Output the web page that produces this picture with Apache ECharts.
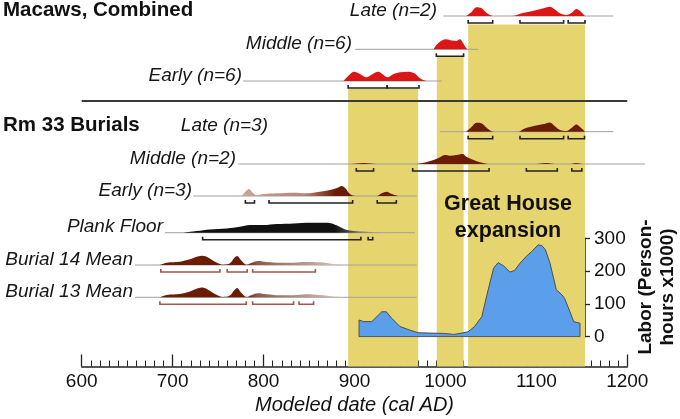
<!DOCTYPE html>
<html>
<head>
<meta charset="utf-8">
<script src="https://cdn.jsdelivr.net/npm/echarts@6/dist/echarts.min.js"></script>
<style>html,body{margin:0;padding:0;background:#fff}#chart{width:680px;height:419px}</style>
</head>
<body>
<div id="chart"></div>
<script>
// ---------------- DATA ----------------
const xTickValues = [600, 700, 800, 900, 1000, 1100, 1200];
const laborTicks = [0, 100, 200, 300];

// highlighted periods (cal AD)
const bandRanges = [[893, 970], [990.5, 1020], [1025, 1153.5]];

// Labor (person-hours x1000)
const laborYears  = [905, 910, 919, 930, 935, 941, 950, 961, 970, 983, 998, 1009, 1016, 1025, 1032, 1040, 1047, 1053, 1058, 1064, 1071, 1076, 1082, 1089, 1095, 1102, 1106, 1110, 1115, 1122, 1128, 1131, 1137, 1141, 1148];
const laborValues = [51, 46, 46, 76, 76, 56, 31, 20, 12, 11, 10, 7, 10, 15, 31, 61, 143, 209, 226, 216, 197, 202, 224, 245, 260, 280, 278, 265, 224, 143, 128, 117, 76, 46, 41];

// relative probability densities [year, relative height]
const macawLateDensity = [[1023,0],[1029,4.3],[1034,8.7],[1040,7.7],[1045,3.3],[1053,0],[1073,0],[1084,2.7],[1097,5.3],[1108,7.7],[1115,9.3],[1120,6.7],[1126,2.7],[1133,1],[1139,3.3],[1144,7],[1149,4.3],[1153.5,0]];
const macawMiddleDensity = [[987,0],[990,4.3],[996,8.7],[1001,10],[1007,8.7],[1012,8.3],[1016,10],[1019,6.7],[1023,1],[1025,0]];
const macawEarlyDensity = [[888,0],[893,5],[899.5,9.3],[906,7],[913,3.7],[920,7],[926,9.3],[932,6],[936,3.7],[943,7],[950,8.7],[959,9.3],[966,7.7],[972,2.7],[978,0.3],[983,0]];
const rmLateDensity = [[1023,0],[1029,5],[1034,9],[1040,8.3],[1045,4.3],[1053,0],[1080,0],[1086,2.7],[1097,5.7],[1108,7.7],[1115,9.3],[1120,5.7],[1126,1.7],[1133,0.7],[1139,4],[1144,7.3],[1149,4],[1153.5,0]];
const rmMiddleDensity = [[896,0],[903,0.5],[910,1],[917,0.5],[924,0],[965,0],[976,1.3],[987,4],[994,6.7],[999.5,9],[1005,8.3],[1012,9],[1019,10],[1023,7.3],[1031,4],[1038,1.7],[1045,0.3],[1050,0],[1100,0],[1111,1],[1120,0],[1138,0],[1144,0.7],[1150,0]];
const rmEarlyDensity = [[776,0],[780,4.3],[784,7],[788,3.3],[792.5,0.7],[800,2],[814.5,2.7],[833,3.3],[847,2.7],[862,4.3],[873,6],[880,7.7],[886,10],[890,7.7],[895,2],[901,0],[924,0],[930,2.7],[935.5,4.3],[941,2],[948,0]];
const plankDensity = [[712,0],[726.5,1.7],[741,3.3],[759.5,4.3],[774,6],[785,7.7],[800,7.7],[814.5,8.7],[833,9.3],[851,10],[866,10],[875,9.3],[882,6.7],[890,3.3],[899,1.7],[913,1],[932,0.3],[943,0]];
const burial14Density = [[686,0],[693.5,2.3],[708,3.3],[719,5.7],[732,9.3],[737.5,8.3],[746.6,3.3],[755.7,0.3],[763,1.7],[767.5,6.7],[771,9],[775,5],[781.5,0.3],[787,2.3],[794,4],[803.5,3],[818,2.3],[833,2.3],[847,3],[862,2.7],[877,1],[888,0]];
const burial13Density = [[686,0],[693.5,2.3],[708,3.3],[719,5.7],[732,9.7],[737.5,8.3],[746.6,3.3],[755.7,0.3],[763,1.7],[767.5,6.7],[771,9.3],[775,5],[781.5,0.3],[787,2.3],[794,4],[803.5,3],[818,2],[833,2],[847,3],[862,2.3],[877,0.7],[888,0]];

// highest-probability ranges [start, end]
const macawLateRanges = [[1025,1052],[1082,1130],[1135,1153.5]];
const macawMiddleRanges = [[990,1020]];
const macawEarlyRanges = [[893,936],[936,971]];
const rmLateRanges = [[1025,1052],[1082,1130],[1135,1153]];
const rmMiddleRanges = [[902,921],[964,1048],[1089,1123],[1139,1150]];
const rmEarlyRanges = [[780,790],[806,898],[925,946]];
const plankRanges = [[733,907],[915,920]];
const burial14Ranges = [[687,752],[760,782],[788,857]];
const burial13Ranges = [[686,781],[788,833],[839,855]];

// baseline extents (cal AD)
const macawLateExtent = [997.7, 1184.6];
const macawMiddleExtent = [900.6, 1036.2];
const macawEarlyExtent = [777.4, 995.9];
const rmLateExtent = [994, 1184.6];
const rmMiddleExtent = [771.9, 1219.5];
const rmEarlyExtent = [722.7, 968.4];
const plankExtent = [691.6, 966.5];
const burial14Extent = [658.6, 968.4];
const burial13Extent = [658.6, 968.4];

// ---------------- STYLE / LAYOUT ----------------
const FONT = '"Liberation Sans", Arial, Helvetica, sans-serif';
const RED = '#dc1616';
const BROWN = '#6a1c04';
const BLACK = '#111111';
const BR_BLACK = '#222222';
const BR_RED = '#a3544c';
const YELLOW = '#e6d46e';
const GRID_LEFT = 81.7;
const AXIS_Y = 366.5;
const BRACKET_Y = -7;
const bandTops = [89, 57, 24.5];

function hGrad(stops) {
  return new echarts.graphic.LinearGradient(0, 0, 1, 0, stops.map(s => ({offset: s[0], color: s[1]})));
}

const rows = [
  {label: 'Late (n=2)', labelRight: 437, baseline: 16, density: macawLateDensity, ranges: macawLateRanges, extent: macawLateExtent, fill: RED, bracket: BR_BLACK},
  {label: 'Middle (n=6)', labelRight: 352, baseline: 49.3, density: macawMiddleDensity, ranges: macawMiddleRanges, extent: macawMiddleExtent, fill: RED, bracket: BR_BLACK},
  {label: 'Early (n=6)', labelRight: 242, baseline: 81, density: macawEarlyDensity, ranges: macawEarlyRanges, extent: macawEarlyExtent, fill: RED, bracket: BR_BLACK},
  {label: 'Late (n=3)', labelRight: 268, labelY: 126, baseline: 131.7, density: rmLateDensity, ranges: rmLateRanges, extent: rmLateExtent, fill: BROWN, bracket: BR_BLACK},
  {label: 'Middle (n=2)', labelRight: 236, baseline: 164, density: rmMiddleDensity, ranges: rmMiddleRanges, extent: rmMiddleExtent, fill: BROWN, bracket: BR_BLACK},
  {label: 'Early (n=3)', labelRight: 192, baseline: 196, density: rmEarlyDensity, ranges: rmEarlyRanges, extent: rmEarlyExtent,
    fill: hGrad([[0,'#c9a595'],[0.4,'#b48676'],[0.6,'#6a1c04'],[1,'#6a1c04']]), bracket: BR_BLACK},
  {label: 'Plank Floor', labelRight: 163, baseline: 232.7, density: plankDensity, ranges: plankRanges, extent: plankExtent,
    fill: hGrad([[0,BLACK],[0.72,BLACK],[0.85,'#777777'],[1,'#cccccc']]), bracket: BR_BLACK},
  {label: 'Burial 14 Mean', labelRight: 133, baseline: 265, density: burial14Density, ranges: burial14Ranges, extent: burial14Extent,
    fill: hGrad([[0,BROWN],[0.47,BROWN],[0.53,'#8e5a4a'],[1,'#d9c9c2']]), bracket: BR_RED},
  {label: 'Burial 13 Mean', labelRight: 133, baseline: 297.3, density: burial13Density, ranges: burial13Ranges, extent: burial13Extent,
    fill: hGrad([[0,BROWN],[0.47,BROWN],[0.53,'#8e5a4a'],[1,'#d9c9c2']]), bracket: BR_RED}
];

const noBounds = {containLabel: false, outerBoundsMode: 'none'};
const grids = [
  Object.assign({left: GRID_LEFT, right: 680 - 627.3, top: 0, height: AXIS_Y}, noBounds),
  Object.assign({left: GRID_LEFT, right: 680 - 585, top: 238.3, height: 336.7 - 238.3}, noBounds)
];
const xAxes = [
  {gridIndex: 0, type: 'value', min: 600, max: 1200, interval: 100,
   axisLine: {show: true, onZero: false, lineStyle: {color: '#222', width: 1.5}},
   axisTick: {show: true, inside: true, length: 12, lineStyle: {color: '#222', width: 1.3}},
   minorTick: {show: true, splitNumber: 10, length: 6, lineStyle: {color: '#222', width: 1}},
   axisLabel: {show: true, fontSize: 19, color: '#111', margin: 6, fontFamily: FONT,
     formatter: v => xTickValues.includes(v) ? String(v) : ''},
   splitLine: {show: false}, minorSplitLine: {show: false},
   name: 'Modeled date (cal AD)', nameLocation: 'middle', nameGap: 29, nameMoveOverlap: false,
   nameTextStyle: {fontSize: 20, fontStyle: 'italic', color: '#111', fontFamily: FONT}},
  {gridIndex: 1, type: 'value', min: 600, max: 1153.5, show: false}
];
const yAxes = [
  {gridIndex: 0, type: 'value', min: 0, max: 1, show: false},
  {gridIndex: 1, type: 'value', min: 0, max: 300, interval: 100, position: 'right',
   axisLine: {show: true, onZero: false, lineStyle: {color: '#222', width: 1.5}},
   axisTick: {show: true, inside: false, length: 5, lineStyle: {color: '#222', width: 1.3}},
   axisLabel: {show: true, fontSize: 19, color: '#111', margin: 9, fontFamily: FONT,
     formatter: v => laborTicks.includes(v) ? String(v) : ''},
   splitLine: {show: false}}
];

const series = [];
// yellow bands
series.push({
  type: 'custom', xAxisIndex: 0, yAxisIndex: 0, silent: true, z: 1,
  data: bandRanges,
  renderItem: function (params, api) {
    const x1 = api.coord([api.value(0), 0])[0];
    const x2 = api.coord([api.value(1), 0])[0];
    const top = bandTops[params.dataIndex];
    return {type: 'rect', shape: {x: x1, y: top, width: x2 - x1, height: AXIS_Y - top},
            style: {fill: YELLOW}};
  }
});
// labor area
const laborPoints = [[laborYears[0], 0]]
  .concat(laborYears.map((y, i) => [y, laborValues[i]]))
  .concat([[laborYears[laborYears.length - 1], 0], [laborYears[0], 0]]);
series.push({
  type: 'line', xAxisIndex: 1, yAxisIndex: 1, data: laborPoints, symbol: 'none', silent: true, z: 2,
  lineStyle: {color: '#4d4d4d', width: 1}, areaStyle: {color: '#5b9ee9', opacity: 1}
});

const graphics = [];
rows.forEach((r, i) => {
  const gi = i + 2;
  grids.push(Object.assign({left: GRID_LEFT, right: 680 - GRID_LEFT - 650 * 0.9093, top: r.baseline - 12, height: 20}, noBounds));
  xAxes.push({gridIndex: gi, type: 'value', min: 600, max: 1250, show: false});
  yAxes.push({gridIndex: gi, type: 'value', min: -8, max: 12, show: false});
  series.push({type: 'line', xAxisIndex: gi, yAxisIndex: gi, silent: true, symbol: 'none', z: 3,
    data: [[r.extent[0], 0], [r.extent[1], 0]], lineStyle: {color: '#a0a0a0', width: 1}});
  series.push({type: 'line', xAxisIndex: gi, yAxisIndex: gi, silent: true, symbol: 'none', z: 4,
    smooth: 0.35, data: r.density, lineStyle: {width: 0, opacity: 0},
    areaStyle: {color: r.fill, opacity: 1}});
  series.push({type: 'custom', xAxisIndex: gi, yAxisIndex: gi, silent: true, z: 5,
    data: r.ranges,
    renderItem: (function (col) {
      return function (params, api) {
        const p1 = api.coord([api.value(0), BRACKET_Y]);
        const p2 = api.coord([api.value(1), BRACKET_Y]);
        return {type: 'polyline',
          shape: {points: [[p1[0], p1[1] - 3], [p1[0], p1[1]], [p2[0], p2[1]], [p2[0], p2[1] - 3]]},
          style: {stroke: col, lineWidth: 1.6, fill: null}};
      };
    })(r.bracket)});
  graphics.push({type: 'text', z: 100, x: r.labelRight, y: r.labelY !== undefined ? r.labelY : r.baseline - 5.5,
    style: {text: r.label, fontSize: 19, fontStyle: 'italic', fontFamily: FONT, fill: '#161616',
      align: 'right', verticalAlign: 'middle'}});
});

graphics.push(
  {type: 'text', z: 100, x: 3, y: 10.5, style: {text: 'Macaws, Combined', fontSize: 20.5, fontWeight: 'bold', fontFamily: FONT, fill: '#111', align: 'left', verticalAlign: 'middle'}},
  {type: 'text', z: 100, x: 3, y: 125, style: {text: 'Rm 33 Burials', fontSize: 20.5, fontWeight: 'bold', fontFamily: FONT, fill: '#111', align: 'left', verticalAlign: 'middle'}},
  {type: 'line', z: 100, shape: {x1: GRID_LEFT, y1: 101, x2: 627.3, y2: 101}, style: {stroke: '#3a3a3a', lineWidth: 2}},
  {type: 'text', z: 100, x: 508, y: 218, style: {text: 'Great House\nexpansion', fontSize: 21.5, fontWeight: 'bold', fontFamily: FONT, fill: '#111', align: 'center', verticalAlign: 'middle', lineHeight: 27}},
  {type: 'text', z: 100, x: 657, y: 287, rotation: Math.PI / 2, style: {text: 'Labor (Person-\nhours x1000)', fontSize: 19, fontWeight: 'bold', fontFamily: FONT, fill: '#111', align: 'center', verticalAlign: 'middle', lineHeight: 22}}
);

const chart = echarts.init(document.getElementById('chart'), null, {renderer: 'canvas', width: 680, height: 419});
chart.setOption({
  animation: false,
  backgroundColor: '#ffffff',
  textStyle: {fontFamily: FONT},
  grid: grids,
  xAxis: xAxes,
  yAxis: yAxes,
  series: series,
  graphic: {elements: graphics}
});
</script>
</body>
</html>
